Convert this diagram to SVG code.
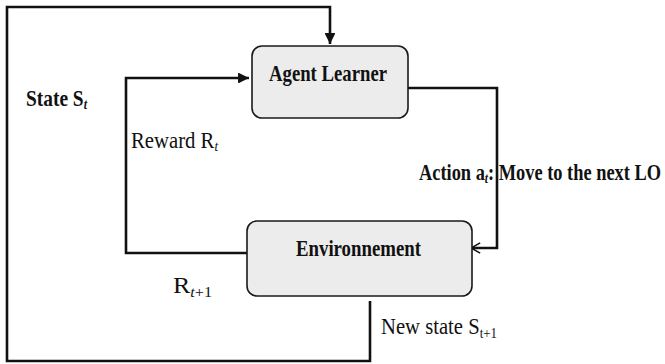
<svg xmlns="http://www.w3.org/2000/svg" width="665" height="364" viewBox="0 0 665 364">
<style>
.box{fill:#ececec;stroke:#1a1a1a;stroke-width:1.6}
.t{font-family:"Liberation Serif","Times New Roman",serif;font-size:24px;fill:#111}
.b{font-weight:bold}
.sub{font-size:15px;font-style:italic}
.subn{font-size:15px}
.line{fill:none;stroke:#111;stroke-width:2.6}
</style>
<defs>
<marker id="tri" viewBox="0 0 10 10" refX="10" refY="5" markerWidth="4.2" markerHeight="4.2" orient="auto" markerUnits="strokeWidth">
<path d="M0,0 L10,5 L0,10 z" fill="#111"/>
</marker>
<marker id="open" viewBox="0 0 10 10" refX="9" refY="5" markerWidth="4.4" markerHeight="4.4" orient="auto" markerUnits="strokeWidth">
<path d="M1,0.5 L9,5 L1,9.5" fill="none" stroke="#111" stroke-width="1.4"/>
</marker>
</defs>
<rect width="665" height="364" fill="#fff"/>
<g id="connectors">
<path class="line" d="M370,301 V361 H7 V7 H330 V44" marker-end="url(#tri)"/>
<path class="line" d="M247,253 H126 V78 H249" marker-end="url(#tri)"/>
<path class="line" d="M408,88 H497 V248 H471" marker-end="url(#open)"/>
</g>
<g id="agent">
<rect class="box" x="252" y="46" width="156" height="72" rx="10"/>
<text class="t b" x="269" y="81" textLength="118" lengthAdjust="spacingAndGlyphs">Agent Learner</text>
</g>
<g id="environment">
<rect class="box" x="247" y="221" width="225" height="75" rx="10"/>
<text class="t b" x="296" y="256" textLength="125" lengthAdjust="spacingAndGlyphs">Environnement</text>
</g>
<g id="labels">
<text class="t b" x="26" y="106" textLength="61" lengthAdjust="spacingAndGlyphs">State S<tspan class="sub" dy="3">t</tspan></text>
<text class="t" x="131" y="148" textLength="87" lengthAdjust="spacingAndGlyphs">Reward R<tspan class="sub" dy="3">t</tspan></text>
<text class="t b" x="419" y="180" textLength="242" lengthAdjust="spacingAndGlyphs">Action a<tspan class="sub" dy="3">t</tspan><tspan dy="-3">: Move to the next LO</tspan></text>
<text class="t" x="173" y="293" textLength="39" lengthAdjust="spacingAndGlyphs">R<tspan class="sub" dy="4">t</tspan><tspan class="subn">+1</tspan></text>
<text class="t" x="381" y="334" textLength="116" lengthAdjust="spacingAndGlyphs">New state S<tspan class="subn" dy="4">t+1</tspan></text>
</g>
</svg>
